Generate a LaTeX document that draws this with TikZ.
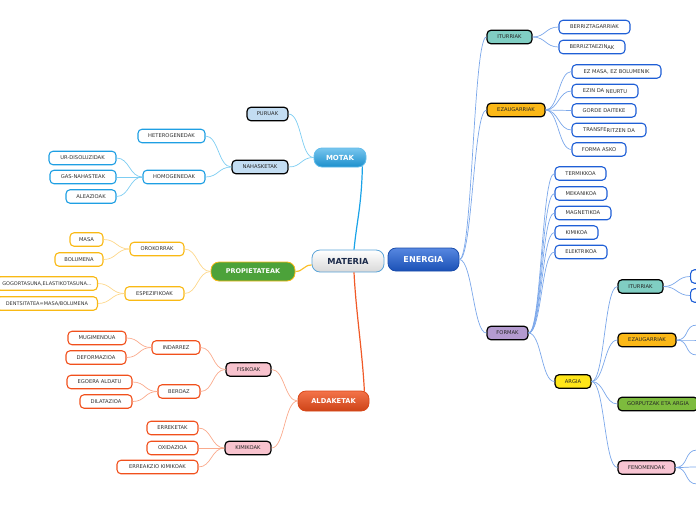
\documentclass[tikz,border=0pt]{standalone}
\usepackage{fontspec}
\newfontfamily\mmf{DejaVu Sans}
\usetikzlibrary{calc}
\definecolor{txt}{HTML}{333333}
\definecolor{motline}{HTML}{7DCDF2}
\definecolor{motbox}{HTML}{1E9FE3}
\definecolor{motfill}{HTML}{C3DDF2}
\definecolor{propline}{HTML}{FDD78A}
\definecolor{propbox}{HTML}{F9B914}
\definecolor{propfill}{HTML}{4CA23A}
\definecolor{aldline}{HTML}{FAAA8C}
\definecolor{aldbox}{HTML}{F1501C}
\definecolor{aldfill}{HTML}{F8C3CE}
\definecolor{enline}{HTML}{7BA7EA}
\definecolor{enbox}{HTML}{1F5FD6}
\definecolor{iturfill}{HTML}{80CEC3}
\definecolor{ezfill}{HTML}{FBB817}
\definecolor{formfill}{HTML}{B49BD0}
\definecolor{argiafill}{HTML}{FFE619}
\definecolor{gorpfill}{HTML}{7DBB3D}
\definecolor{fenfill}{HTML}{F8C5D3}
\definecolor{matborder}{HTML}{5BA4D8}
\definecolor{mattext}{HTML}{1B2A4A}
\definecolor{matline}{HTML}{1AA3E8}
\definecolor{aldmain}{HTML}{F05A28}
\definecolor{propmain}{HTML}{FBC02D}
\tikzset{
  sm/.style={font=\mmf\fontsize{5.2}{6}\selectfont, text=txt, inner sep=0pt,
    minimum height=13.5pt, rounded corners=4pt, line width=1.1pt, fill=white},
  mot3/.style={sm, draw=motbox},
  prop3/.style={sm, draw=propbox},
  ald3/.style={sm, draw=aldbox},
  en3/.style={sm, draw=enbox},
  lv2/.style={sm, draw=black, line width=1.2pt, text=black!85},
  mainbox/.style={inner sep=0pt, rounded corners=8pt, line width=0.8pt,
    font=\mmf\bfseries, text=white},
  cl/.style={line width=0.7pt},
}
\newcommand\mmL[3]{\draw[cl,#1] (#2) .. controls +(-13,0) and +(13,0) .. (#3);}
\newcommand\mmR[3]{\draw[cl,#1] (#2) .. controls +(13,0) and +(-13,0) .. (#3);}
\begin{document}
\begin{tikzpicture}[x=1pt,y=-1pt]
\useasboundingbox (0,0) rectangle (696,520);
% main topics
\node[mainbox, draw=matborder, top color=white, bottom color=gray!30, text=mattext,
  minimum width=72pt, minimum height=22pt, font=\mmf\bfseries\fontsize{8.3}{9}\selectfont] (materia) at (348,261) {MATERIA};
\node[mainbox, draw=enbox!80!black, top color=enbox!75!white, bottom color=enbox!85!black,
  minimum width=71pt, minimum height=23pt, font=\mmf\bfseries\fontsize{8.1}{9}\selectfont] (energia) at (423.5,259.5) {ENERGIA};
\node[mainbox, draw=motbox!70, top color=motbox!60!white, bottom color=motbox!90!black,
  minimum width=52pt, minimum height=19pt, font=\mmf\bfseries\fontsize{7}{8}\selectfont] (motak) at (340,157.5) {MOTAK};
\node[mainbox, draw=propbox, fill=propfill,
  minimum width=84pt, minimum height=19pt, font=\mmf\bfseries\fontsize{6.5}{7}\selectfont] (prop) at (253,271.5) {PROPIETATEAK};
\node[mainbox, draw=aldbox!90!black, top color=aldbox!80!white, bottom color=aldbox!85!black,
  minimum width=71pt, minimum height=20pt, font=\mmf\bfseries\fontsize{6.7}{7}\selectfont] (aldaketak) at (333.5,401) {ALDAKETAK};

% main connectors
\draw[matline, line width=1.2pt] ($(materia.north)+(6,0)$) .. controls +(3,-30) and +(-1,40) .. ($(motak.south east)+(-4,-1)$);
\draw[aldmain, line width=1.2pt] ($(materia.south)+(6,0)$) .. controls +(2,40) and +(-2,-40) .. ($(aldaketak.north east)+(-5,1)$);
\draw[propmain, line width=1.2pt] ($(materia.west)+(0,4)$) .. controls +(-8,0) and +(8,0) .. (prop.east);

% MOTAK branch
\node[lv2, fill=motfill, minimum width=41pt] (puruak) at (267.5,114) {PURUAK};
\node[lv2, fill=motfill, minimum width=56pt] (nahas) at (260,167) {NAHASKETAK};
\node[mot3, minimum width=67pt] (hetero) at (171.5,136) {HETEROGENEDAK};
\node[mot3, minimum width=62pt] (homo) at (174,177) {HOMOGENEDAK};
\node[mot3, minimum width=67pt] (ur) at (82.5,158) {UR-DISOLUZIDAK};
\node[mot3, minimum width=66pt] (gas) at (83,177) {GAS-NAHASTEAK};
\node[mot3, minimum width=50pt] (alea) at (91,196.5) {ALEAZIOAK};
\mmL{motline}{motak.west}{puruak.east}
\mmL{motline}{motak.west}{nahas.east}
\mmL{motline}{nahas.west}{hetero.east}
\mmL{motline}{nahas.west}{homo.east}
\mmL{motline}{homo.west}{ur.east}
\mmL{motline}{homo.west}{gas.east}
\mmL{motline}{homo.west}{alea.east}

% PROPIETATEAK branch
\node[prop3, minimum width=54pt] (orok) at (157,249) {OROKORRAK};
\node[prop3, minimum width=59pt] (espez) at (154.5,293.5) {ESPEZIFIKOAK};
\node[prop3, minimum width=33pt] (masa) at (86.5,239.5) {MASA};
\node[prop3, minimum width=48pt] (bolu) at (79,259.5) {BOLUMENA};
\node[prop3, anchor=east, minimum width=101pt, font=\mmf\fontsize{5}{6}\selectfont] (gogor) at (98,283.5) {GOGORTASUNA,ELASTIKOTASUNA...};
\node[prop3, anchor=east, minimum width=101pt, font=\mmf\fontsize{5}{6}\selectfont] (dents) at (98,303.5) {DENTSITATEA=MASA/BOLUMENA};
\mmL{propline}{prop.west}{orok.east}
\mmL{propline}{prop.west}{espez.east}
\mmL{propline}{orok.west}{masa.east}
\mmL{propline}{orok.west}{bolu.east}
\mmL{propline}{espez.west}{gogor.east}
\mmL{propline}{espez.west}{dents.east}

% ALDAKETAK branch
\node[lv2, fill=aldfill, minimum width=45pt] (fisi) at (248.5,369.5) {FISIKOAK};
\node[lv2, fill=aldfill, minimum width=46pt] (kimi) at (248,448) {KIMIKOAK};
\node[ald3, minimum width=48pt] (indar) at (176,347.5) {INDARREZ};
\node[ald3, minimum width=42pt] (beroaz) at (179,391.5) {BEROAZ};
\node[ald3, minimum width=58pt] (mugi) at (97,338) {MUGIMENDUA};
\node[ald3, minimum width=60pt] (defor) at (96,357.5) {DEFORMAZIOA};
\node[ald3, minimum width=65pt] (egoera) at (99.5,382) {EGOERA ALDATU};
\node[ald3, minimum width=52pt] (dilat) at (106,401.5) {DILATAZIOA};
\node[ald3, minimum width=51pt] (erreke) at (172.5,428) {ERREKETAK};
\node[ald3, minimum width=51pt] (oxid) at (172.5,448) {OXIDAZIOA};
\node[ald3, minimum width=81pt] (erreak) at (157.5,467) {ERREAKZIO KIMIKOAK};
\mmL{aldline}{aldaketak.west}{fisi.east}
\mmL{aldline}{aldaketak.west}{kimi.east}
\mmL{aldline}{fisi.west}{indar.east}
\mmL{aldline}{fisi.west}{beroaz.east}
\mmL{aldline}{indar.west}{mugi.east}
\mmL{aldline}{indar.west}{defor.east}
\mmL{aldline}{beroaz.west}{egoera.east}
\mmL{aldline}{beroaz.west}{dilat.east}
\mmL{aldline}{kimi.west}{erreke.east}
\mmL{aldline}{kimi.west}{oxid.east}
\mmL{aldline}{kimi.west}{erreak.east}

% ENERGIA branch
\node[lv2, fill=iturfill, minimum width=45pt] (itur) at (509.5,37) {ITURRIAK};
\node[lv2, fill=ezfill, minimum width=58pt] (ezau) at (516,110) {EZAUGARRIAK};
\node[lv2, fill=formfill, minimum width=41pt] (formak) at (507.5,333) {FORMAK};
\node[en3, minimum width=71pt] (berri) at (594.5,27) {BERRIZTAGARRIAK};
\node[en3, minimum width=66pt] (berriez) at (592,47) {BERRIZTAEZIN\raisebox{-1.2pt}{AK}};
\node[en3, minimum width=89pt] (ezmasa) at (616.5,71.5) {EZ MASA, EZ BOLUMENIK};
\node[en3, minimum width=66pt] (ezin) at (605,91) {EZIN DA \raisebox{-1pt}{NEURTU}};
\node[en3, minimum width=64pt] (gorde) at (604,110.5) {GORDE DAITEKE};
\node[en3, minimum width=74pt] (trans) at (609,130) {TRANSFE\raisebox{-1.2pt}{RITZEN DA}};
\node[en3, minimum width=54pt] (formaa) at (599,149.5) {FORMA ASKO};
\node[en3, minimum width=51pt] (termi) at (580.5,173.5) {TERMIKKOA};
\node[en3, minimum width=52pt] (meka) at (581,193.5) {MEKANIKOA};
\node[en3, minimum width=56pt] (magne) at (583,213) {MAGNETIKOA};
\node[en3, minimum width=43pt] (kimikoa) at (576.5,232.5) {KIMIKOA};
\node[en3, minimum width=52pt] (elek) at (581,252) {ELEKTRIKOA};
\node[lv2, fill=argiafill, minimum width=36pt] (argia) at (573,381.5) {ARGIA};
\node[lv2, fill=iturfill, minimum width=45pt] (itur2) at (640.5,286.5) {ITURRIAK};
\node[lv2, fill=ezfill, minimum width=58pt] (ezau2) at (647,340) {EZAUGARRIAK};
\node[lv2, fill=gorpfill, minimum width=80pt] (gorp) at (658,404) {GORPUTZAK ETA ARGIA};
\node[lv2, fill=fenfill, minimum width=57pt] (feno) at (646.5,467.5) {FENOMENOAK};
\node[en3, anchor=west, minimum width=30pt] (it2a) at (690,276.5) {};
\node[en3, anchor=west, minimum width=30pt] (it2b) at (690,295.5) {};
\coordinate (ez2a) at (697,325);
\coordinate (ez2b) at (697,340);
\coordinate (ez2c) at (697,355);
\coordinate (fe2a) at (697,450);
\coordinate (fe2b) at (697,467);
\coordinate (fe2c) at (697,484);
\mmR{enline}{energia.east}{itur.west}
\mmR{enline}{energia.east}{ezau.west}
\mmR{enline}{energia.east}{formak.west}
\mmR{enline}{itur.east}{berri.west}
\mmR{enline}{itur.east}{berriez.west}
\mmR{enline}{ezau.east}{ezmasa.west}
\mmR{enline}{ezau.east}{ezin.west}
\mmR{enline}{ezau.east}{gorde.west}
\mmR{enline}{ezau.east}{trans.west}
\mmR{enline}{ezau.east}{formaa.west}
\mmR{enline}{formak.east}{termi.west}
\mmR{enline}{formak.east}{meka.west}
\mmR{enline}{formak.east}{magne.west}
\mmR{enline}{formak.east}{kimikoa.west}
\mmR{enline}{formak.east}{elek.west}
\mmR{enline}{formak.east}{argia.west}
\mmR{enline}{argia.east}{itur2.west}
\mmR{enline}{argia.east}{ezau2.west}
\mmR{enline}{argia.east}{gorp.west}
\mmR{enline}{argia.east}{feno.west}
\mmR{enline}{itur2.east}{it2a.west}
\mmR{enline}{itur2.east}{it2b.west}
\mmR{enline}{ezau2.east}{ez2a}
\mmR{enline}{ezau2.east}{ez2b}
\mmR{enline}{ezau2.east}{ez2c}
\mmR{enline}{feno.east}{fe2a}
\mmR{enline}{feno.east}{fe2b}
\mmR{enline}{feno.east}{fe2c}
\end{tikzpicture}
\end{document}
